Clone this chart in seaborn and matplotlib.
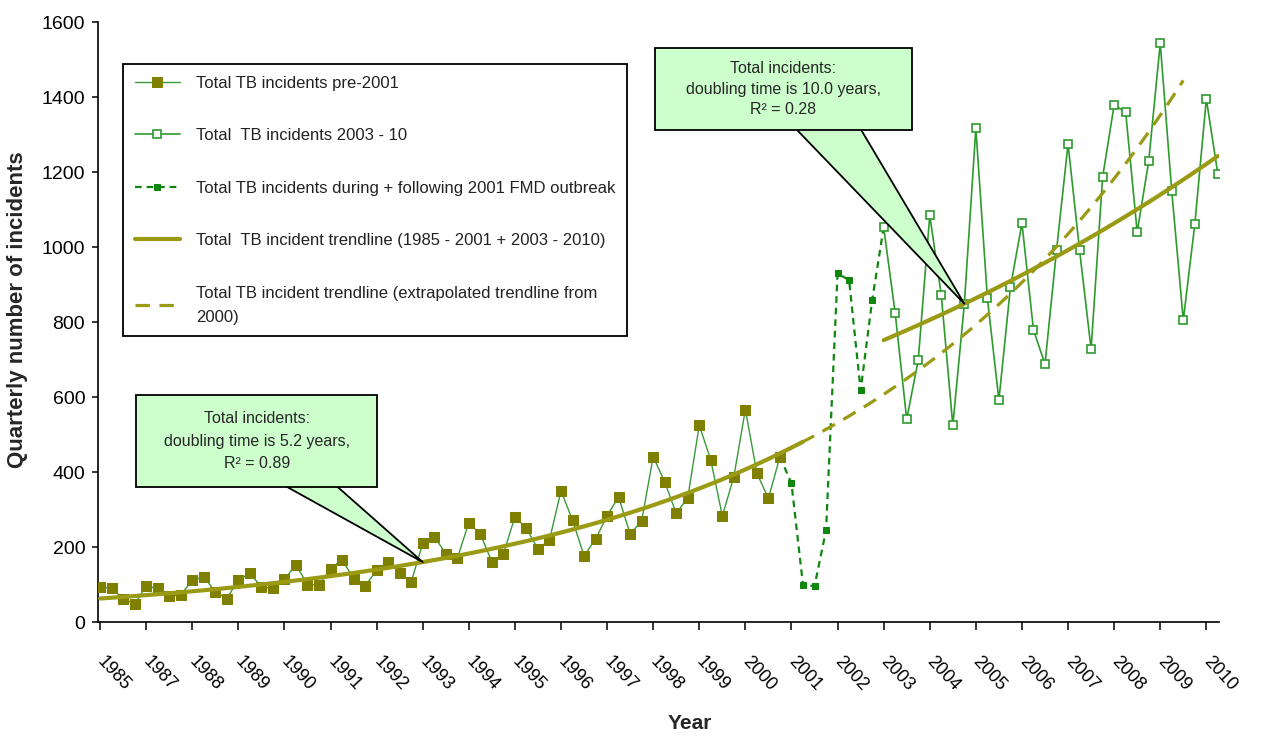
import numpy as np
import matplotlib
matplotlib.use("Agg")
import matplotlib.pyplot as plt
import matplotlib.transforms as mtransforms
from matplotlib.path import Path
import seaborn as sns

# ---------------- data (quarterly totals) ----------------
year_labels = ["1985", "1987", "1988", "1989", "1990", "1991", "1992", "1993",
               "1994", "1995", "1996", "1997", "1998", "1999", "2000", "2001",
               "2002", "2003", "2004", "2005", "2006", "2007", "2008", "2009", "2010"]

pre_2001 = [94, 90, 63, 48, 96, 90, 69, 72, 112, 121, 81, 63, 112, 130, 94,
            90, 114, 153, 100, 99, 142, 167, 116, 96, 139, 161, 132, 107, 210, 228,
            183, 170, 265, 235, 161, 181, 281, 250, 195, 219, 350, 272, 177, 221, 284,
            334, 235, 270, 441, 374, 290, 332, 525, 432, 283, 388, 567, 397, 330, 441]

fmd_2001_02 = [370, 99, 96, 245, 930, 912, 618, 858]

inc_2003_10 = [1053, 824, 541, 699, 1085, 872, 525, 848, 1317, 864,
               592, 893, 1064, 779, 688, 992, 1275, 992, 728, 1187,
               1379, 1360, 1040, 1229, 1544, 1149, 805, 1061, 1395, 1195]

doubling_years = [5.2, 10.0]      # from the callouts
r_squared = [0.89, 0.28]
trend_start = [63, 752]           # trendline value at the start of each fitted period

series_labels = ["Total TB incidents pre-2001",
                 "Total  TB incidents 2003 - 10",
                 "Total TB incidents during + following 2001 FMD outbreak",
                 "Total  TB incident trendline (1985 - 2001 + 2003 - 2010)",
                 "Total TB incident trendline (extrapolated trendline from\n2000)"]

# ---------------- derived positions (quarter index) ----------------
n_pre, n_fmd, n_new = len(pre_2001), len(fmd_2001_02), len(inc_2003_10)
q_pre = np.arange(n_pre)
q_fmd = np.arange(n_pre - 1, n_pre + n_fmd + 1)          # joins neighbours
y_fmd = [pre_2001[-1]] + fmd_2001_02 + [inc_2003_10[0]]
q_new = np.arange(n_new) + n_pre + n_fmd
last_q = q_new[-1]


def trend(q, start_q, base, dbl):
    return base * 2 ** ((q - start_q) / (4 * dbl))


t1_x = np.linspace(0, n_pre + 1, 120)
t1_y = trend(t1_x, 0, trend_start[0], doubling_years[0])
ext_x = np.linspace(n_pre - 1, last_q - 3, 120)
ext_y = trend(ext_x, 0, trend_start[0], doubling_years[0])
t2_x = np.linspace(q_new[0], last_q, 120)
t2_y = trend(t2_x, q_new[0], trend_start[1], doubling_years[1])

# ---------------- style ----------------
sns.set_style("ticks")
plt.rcParams["font.family"] = ["Liberation Sans", "DejaVu Sans"]

fig = plt.figure(figsize=(12.61, 7.38), dpi=100)
ax = fig.add_axes([0.0775, 0.157, 0.8892, 0.813])

OLIVE_M = "#808000"
TREND = "#9a9a14"
GREEN = "#2e9a2e"
DKGREEN = "#0f870f"

sns.lineplot(x=q_pre, y=pre_2001, ax=ax, color="#3a9a3a", lw=1.0,
             marker="s", markersize=6.8, markerfacecolor=OLIVE_M,
             markeredgecolor=OLIVE_M, label=series_labels[0], zorder=3)
h_pre = ax.lines[-1]

sns.lineplot(x=q_new, y=inc_2003_10, ax=ax, color=GREEN, lw=1.2,
             marker="s", markersize=5.5, markerfacecolor="white",
             markeredgecolor=GREEN, markeredgewidth=1.2,
             label=series_labels[1], zorder=3)
h_new = ax.lines[-1]

sns.lineplot(x=q_fmd, y=y_fmd, ax=ax, color=DKGREEN, lw=1.6,
             linestyle=(0, (3, 2.2)), marker="s", markersize=4.5,
             markerfacecolor=DKGREEN, markeredgecolor=DKGREEN,
             markevery=list(range(1, n_fmd + 1)),
             label=series_labels[2], zorder=2)
h_fmd = ax.lines[-1]

sns.lineplot(x=t1_x, y=t1_y, ax=ax, color=TREND, lw=3.0,
             label=series_labels[3], zorder=4)
h_t1 = ax.lines[-1]
sns.lineplot(x=t2_x, y=t2_y, ax=ax, color=TREND, lw=3.0, zorder=4)

sns.lineplot(x=ext_x, y=ext_y, ax=ax, color=TREND, lw=2.3,
             linestyle=(0, (4.5, 3)), label=series_labels[4], zorder=4)
h_ext = ax.lines[-1]

# ---------------- axes ----------------
ax.set_xlim(-0.2, last_q + 0.1)
ax.set_ylim(0, 1600)
ax.set_yticks(np.arange(0, 1601, 200))
ax.set_xticks(np.arange(0, len(year_labels) * 4, 4))
ax.set_xticklabels(year_labels, rotation=-47, ha="left", va="center",
                   rotation_mode="anchor", fontsize=13)
off = mtransforms.ScaledTranslation(10 / 100, 0, fig.dpi_scale_trans)
for lbl in ax.get_xticklabels():
    lbl.set_transform(lbl.get_transform() + off)

ax.tick_params(axis="x", direction="out", length=5.5, width=1.1, pad=21,
               colors="black")
ax.tick_params(axis="y", direction="out", length=4.5, width=1.1, pad=4.5,
               labelsize=14, colors="black")
for s in ["top", "right"]:
    ax.spines[s].set_visible(False)
for s in ["left", "bottom"]:
    ax.spines[s].set_color("black")
    ax.spines[s].set_linewidth(1.2)

ax.set_xlabel("Year", fontsize=15, fontweight="bold")
ax.xaxis.set_label_coords(0.528, -0.153)
ax.set_ylabel("Quarterly number of incidents", fontsize=16, fontweight="bold")
ax.yaxis.set_label_coords(-0.062, 0.52)

# ---------------- legend ----------------
leg = ax.legend([h_pre, h_new, h_fmd, h_t1, h_ext], series_labels,
                loc="upper left", bbox_to_anchor=(0.0226, 0.93),
                borderaxespad=0, frameon=True, fancybox=False,
                edgecolor="black", framealpha=1, fontsize=12,
                handlelength=2.7, handletextpad=1.0, labelspacing=2.25,
                borderpad=0.7)
leg.get_frame().set_linewidth(1.3)
for t in leg.get_texts():
    t.set_color("#222222")
    t.set_linespacing(1.75)


# ---------------- callouts ----------------
def rect_box(hpad, vpad):
    def box(x0, y0, width, height, mutation_size):
        px, py = hpad * mutation_size, vpad * mutation_size
        return Path([(x0 - px, y0 - py), (x0 + width + px, y0 - py),
                     (x0 + width + px, y0 + height + py),
                     (x0 - px, y0 + height + py), (x0 - px, y0 - py)],
                    closed=True)
    return box


tip1 = 28
ax.annotate(f"Total incidents:\ndoubling time is {doubling_years[0]} years,\nR² = {r_squared[0]}",
            xy=(tip1, trend(tip1, 0, trend_start[0], doubling_years[0])),
            xytext=(13.6, 483), ha="center", va="center", fontsize=11.5,
            linespacing=1.6, zorder=6,
            bbox=dict(boxstyle=rect_box(1.72, 1.03), fc="#ccffcc", ec="black", lw=1.3),
            arrowprops=dict(arrowstyle="wedge,tail_width=1.65", mutation_scale=20,
                            fc="#ccffcc", ec="black", lw=1.3, patchA=None,
                            relpos=(0.47, 0.5), shrinkA=0, shrinkB=0))
tip2 = 75
ax.annotate(f"Total incidents:\ndoubling time is {doubling_years[1]} years,\nR² = {r_squared[1]}",
            xy=(tip2, trend(tip2, q_new[0], trend_start[1], doubling_years[1])),
            xytext=(59.3, 1421), ha="center", va="center", fontsize=11.5,
            linespacing=1.45, zorder=6,
            bbox=dict(boxstyle=rect_box(1.94, 0.81), fc="#ccffcc", ec="black", lw=1.3),
            arrowprops=dict(arrowstyle="wedge,tail_width=2.25", mutation_scale=20,
                            fc="#ccffcc", ec="black", lw=1.3, patchA=None,
                            relpos=(0.59, 0.5), shrinkA=0, shrinkB=0))

fig.savefig("out.png", dpi=100)
